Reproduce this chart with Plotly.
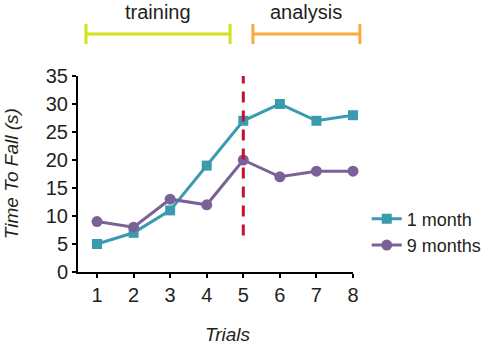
import plotly.graph_objects as go

trials = [1, 2, 3, 4, 5, 6, 7, 8]
one_month = [5, 7, 11, 19, 27, 30, 27, 28]
nine_months = [9, 8, 13, 12, 20, 17, 18, 18]
y_ticks = [0, 5, 10, 15, 20, 25, 30, 35]

teal = "#3a9bb0"
purple = "#7a6298"
font = "Liberation Sans, Arial, sans-serif"
txt = "#231f20"

fig = go.Figure()
fig.add_trace(go.Scatter(x=trials, y=one_month, name="1 month", mode="lines+markers",
                         line=dict(color=teal, width=3),
                         marker=dict(symbol="square", size=10, color=teal), cliponaxis=False))
fig.add_trace(go.Scatter(x=trials, y=nine_months, name="9 months", mode="lines+markers",
                         line=dict(color=purple, width=3),
                         marker=dict(symbol="circle", size=11, color=purple), cliponaxis=False))

# dashed divider at trial 5
fig.add_shape(type="line", x0=5, x1=5, y0=6.5, y1=35, xref="x", yref="y",
              line=dict(color="#c8102e", width=3, dash="11px,8px"))

def bracket(x0, x1, color):
    fig.add_shape(type="line", x0=x0, x1=x1, y0=1.214, y1=1.214, xref="paper", yref="paper",
                  line=dict(color=color, width=3))
    for xx in (x0, x1):
        fig.add_shape(type="line", x0=xx, x1=xx, y0=1.163, y1=1.265, xref="paper", yref="paper",
                      line=dict(color=color, width=3))

bracket(0.029, 0.553, "#d4e01a")
bracket(0.636, 1.025, "#f9aa3c")

fig.add_annotation(x=(0.029 + 0.553) / 2, y=1.327, xref="paper", yref="paper", text="training",
                   showarrow=False, xanchor="center", yanchor="middle",
                   font=dict(size=20, color=txt))
fig.add_annotation(x=(0.636 + 1.025) / 2, y=1.327, xref="paper", yref="paper", text="analysis",
                   showarrow=False, xanchor="center", yanchor="middle",
                   font=dict(size=20, color=txt))
fig.add_annotation(x=-0.243, y=0.5, xref="paper", yref="paper", text="<i>Time To Fall (s)</i>",
                   textangle=-90, showarrow=False, xanchor="center", yanchor="middle",
                   font=dict(size=19, color=txt))
fig.add_annotation(x=0.545, y=-0.321, xref="paper", yref="paper", text="<i>Trials</i>",
                   showarrow=False, xanchor="center", yanchor="middle",
                   font=dict(size=19, color=txt))

fig.update_layout(
    width=500, height=350,
    margin=dict(l=78, r=147, t=76, b=78),
    plot_bgcolor="white", paper_bgcolor="white",
    font=dict(family=font, size=20, color=txt),
    showlegend=True,
    legend=dict(x=1.05, y=0.204, xanchor="left", yanchor="middle", font=dict(size=18),
                bgcolor="rgba(0,0,0,0)", tracegroupgap=0, itemwidth=30),
    xaxis=dict(range=[0.48, 8], tickvals=trials, showline=True, linecolor="black", linewidth=2,
               ticks="outside", ticklen=4, tickwidth=2, tickcolor="black", showgrid=False,
               zeroline=False),
    yaxis=dict(range=[0, 35], tickvals=y_ticks, showline=True, linecolor="black", linewidth=2,
               ticks="outside", ticklen=4, tickwidth=2, tickcolor="black", showgrid=False,
               zeroline=False),
)

fig.write_html("out.html")
